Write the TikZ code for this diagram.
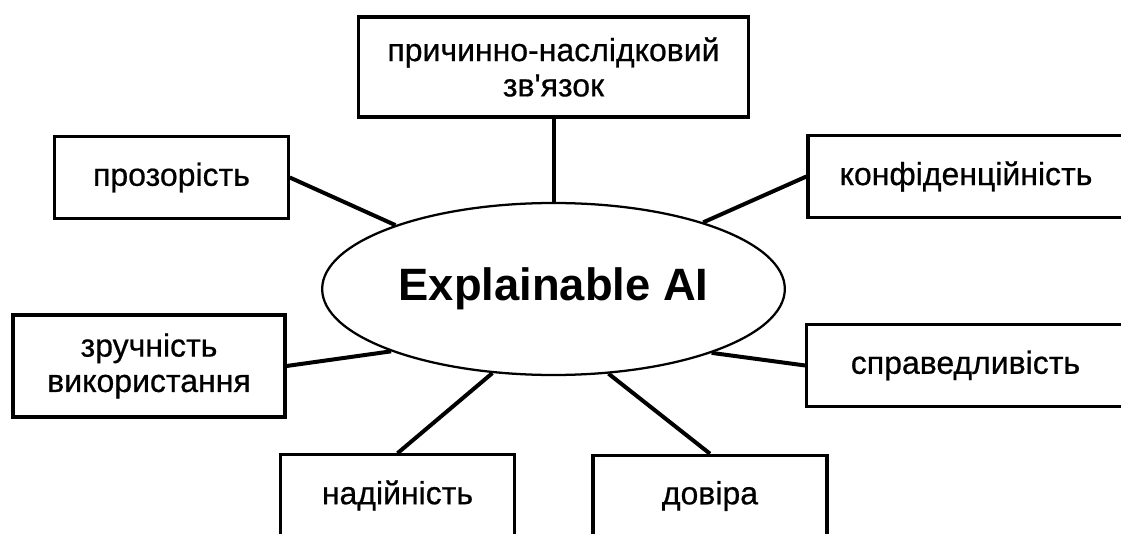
\documentclass[tikz,border=0pt]{standalone}
\usepackage{fontspec}
\setmainfont{Liberation Sans}
\newfontfamily\labelfont{Liberation Sans}[FakeBold=0.6]
\usetikzlibrary{shapes.geometric}

\tikzset{
  topic/.style={draw=black, line width=2.4pt, fill=white, align=center,
    inner sep=0pt, font=\labelfont\fontsize{24}{26.5}\selectfont},
  core/.style={ellipse, draw=black, line width=1.7pt, fill=white, inner sep=0pt,
    minimum width=347pt, minimum height=129pt,
    font=\fontsize{34}{38}\selectfont\bfseries},
  link/.style={draw=black, line width=3pt}
}

\begin{document}
\begin{tikzpicture}[x=0.75pt, y=-0.75pt]
  \useasboundingbox (0,0) rectangle (1121,534);
  \clip (0,0) rectangle (1121,534);

  % central concept
  \node[core] (xai) at (553.5,289) {Explainable AI};

  % surrounding properties
  \node[topic, minimum width=293pt, minimum height=75pt] (cause) at (553.5,67)
    {причинно-наслідковий\\зв\textquotesingle язок};
  \node[topic, minimum width=175pt, minimum height=61pt] (transp) at (171.5,177.5)
    {прозорість};
  \node[topic, minimum width=237pt, minimum height=61pt] (privacy) at (966,176.5)
    {конфіденційність};
  \node[topic, minimum width=204pt, minimum height=76.5pt] (usab) at (149,366)
    {зручність\\використання};
  \node[topic, minimum width=238pt, minimum height=61pt] (fair) at (965.5,365.5)
    {справедливість};
  \node[topic, minimum width=176pt, minimum height=61pt] (reliab) at (397.5,495.5)
    {надійність};
  \node[topic, minimum width=175.5pt, minimum height=61pt] (trust) at (710,496)
    {довіра};

  % spokes
  \path[link] (cause.south) -- (xai.north);
  \path[link] (transp.east) -- (xai.158.3);
  \path[link] (privacy.west) -- (xai.24.2);
  \path[link] (usab.east) -- (xai.201.4);
  \path[link] (fair.west) -- (xai.338.1);
  \path[link] (reliab.north) -- (xai.234);
  \path[link] (trust.north) -- (xai.303);
\end{tikzpicture}
\end{document}
